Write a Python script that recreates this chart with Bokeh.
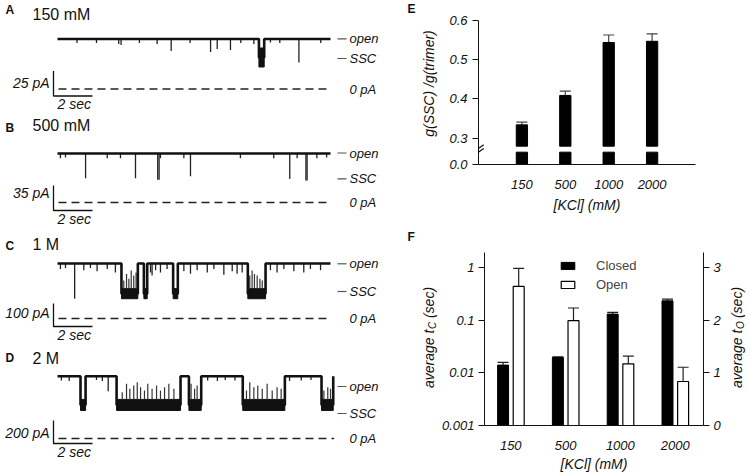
import math
from bokeh.plotting import figure
from bokeh.layouts import row, column
from bokeh.models import (Range1d, LinearAxis, LinearScale, FixedTicker, Label, Whisker, TeeHead,
                          ColumnDataSource, Legend, LegendItem)
from bokeh.embed import file_html
from bokeh.resources import INLINE

FONT = "Liberation Sans"
INK = "#111111"

# ---------------- Data: panels A-D (time in s, current in pA) ----------------
panel_letters = ["A", "B", "C", "D"]
panel_titles = ["150 mM", "500 mM", "1 M", "2 M"]
scale_bar_pA = [25, 35, 100, 200]
scale_bar_s = 2
trace_end_s = [14.0, 14.0, 14.0, 14.14]
open_level_pA = [50, 68.6, 239, 542]
ssc_band_lo_pA = [22, 31, 86, 244]
ssc_band_hi_pA = [41, 36, 130, 340]

A_dwell_start = [10.33]
A_dwell_end = [10.60]
A_spike_t = [1.0, 2.0, 3.14, 3.26, 4.2, 5.11, 5.83, 6.8, 7.85, 8.19, 8.87, 9.4, 10.07, 10.92, 11.4, 12.38, 13.5]
A_spike_pA = [46, 46, 45, 44, 46, 45, 38, 46, 37, 40, 39, 46, 45, 46.6, 46, 26.6, 46]
A_up_t = []
A_up_pA = []

B_dwell_start = []
B_dwell_end = []
B_spike_t = [0.15, 0.41, 1.44, 2.55, 3.23, 4.00, 5.14, 5.21, 5.28, 6.48, 6.82, 9.38, 11.09, 11.91, 12.29, 12.74, 12.80, 13.3, 13.8]
B_spike_pA = [62, 63, 34, 62, 62, 34, 31.7, 31.7, 62, 62, 36.8, 62, 62, 33, 62, 30.8, 30.8, 62, 63]
B_up_t = []
B_up_pA = []

C_dwell_start = [3.28, 4.43, 5.93, 9.76]
C_dwell_end = [4.12, 4.60, 6.17, 10.67]
C_spike_t = [0.15, 0.41, 0.88, 1.35, 1.69, 2.03, 2.55, 2.97, 4.77, 4.85, 5.03, 5.28, 5.62, 6.48, 6.82,
             7.16, 7.68, 8.02, 8.53, 8.96, 9.21, 9.47, 10.92, 11.26, 11.61, 12.12, 12.63, 12.97, 13.49]
C_spike_pA = [215, 220, 86, 210, 220, 205, 215, 200, 200, 187, 210, 200, 215, 205, 195,
              210, 200, 215, 190, 205, 195, 200, 210, 200, 215, 205, 200, 215, 210]
C_up_t = [3.40, 3.54, 3.66, 3.78, 3.91, 4.03, 9.86, 9.98, 10.10, 10.24, 10.38, 10.50]
C_up_pA = [165, 194, 173, 209, 187, 200, 187, 209, 194, 187, 173, 165]

D_dwell_start = [1.18, 3.03, 6.74, 9.50, 13.54]
D_dwell_end = [1.44, 6.31, 7.37, 11.66, 14.14]
D_spike_t = [0.2, 0.6, 2.0, 2.3, 2.6, 7.7, 8.2, 8.6, 9.1, 11.9, 12.5, 13.0]
D_spike_pA = [505, 500, 510, 500, 412, 505, 500, 510, 505, 500, 505, 510]
D_up_t = [3.32, 3.54, 3.71, 3.91, 4.09, 4.26, 4.46, 4.63, 4.85, 5.08, 5.28, 5.49, 5.71, 5.97,
          6.85, 7.03, 7.16, 9.69, 9.86, 10.07, 10.27, 10.50, 10.75, 11.01, 11.26, 11.47,
          13.66, 13.86, 14.00]
D_up_pA = [403, 476, 432, 461, 490, 446, 418, 476, 432, 461, 418, 446, 476, 432,
           476, 432, 461, 418, 490, 446, 461, 432, 476, 418, 446, 432,
           418, 446, 432]

# ---------------- Data: panel E ----------------
kcl_labels = ["150", "500", "1000", "2000"]
g_ratio = [0.334, 0.409, 0.544, 0.547]
g_ratio_sem = [0.007, 0.011, 0.019, 0.019]

# ---------------- Data: panel F ----------------
closed_tc = [0.0140, 0.0196, 0.130, 0.232]
closed_tc_sem = [0.0018, 0.0005, 0.010, 0.018]
open_to = [2.64, 1.99, 1.17, 0.835]
open_to_sem = [0.34, 0.24, 0.145, 0.27]

# ---------------- Layout geometry (page pixels) ----------------
LEFT_W = 388
PX_PER_S = 19.5
T0_PX = 57          # page x of t = 0
panel_top = [0, 115, 230, 345]
panel_h = [115, 115, 115, 129]
zero_y = [88.5, 202, 318, 438]
pA_per_px = [1.0, 1.4, 4.35, 8.7]
bar_below = [7, 8, 8, 5]
lab_open_y = [38.3, 152.5, 263.3, 386]
lab_ssc_y = [58, 178.3, 291, 413]
scale_lab_y = [82, 192, 312, 432]
letter_y = [9, 127, 245, 357]
title_y = [14, 125, 244, 358]

traces = [
    (A_dwell_start, A_dwell_end, A_spike_t, A_spike_pA, A_up_t, A_up_pA),
    (B_dwell_start, B_dwell_end, B_spike_t, B_spike_pA, B_up_t, B_up_pA),
    (C_dwell_start, C_dwell_end, C_spike_t, C_spike_pA, C_up_t, C_up_pA),
    (D_dwell_start, D_dwell_end, D_spike_t, D_spike_pA, D_up_t, D_up_pA),
]


def tx(px):
    return (px - T0_PX) / PX_PER_S


def bare(p):
    p.outline_line_color = None
    p.xgrid.visible = False
    p.ygrid.visible = False
    p.frame_align = False
    return p


def lab(p, x, y, txt, size="14px", style="italic", angle=0.0, align="left"):
    p.add_layout(Label(x=x, y=y, text=txt, angle=angle, text_font=FONT,
                       text_font_style=style, text_font_size=size, text_align=align,
                       text_baseline="middle", text_color=INK))


def trace_panel(i):
    top, h, z, k = panel_top[i], panel_h[i], zero_y[i], pA_per_px[i]
    yv = lambda py: (z - py) * k
    p = bare(figure(width=LEFT_W, height=h, x_range=Range1d(tx(0), tx(LEFT_W)),
                    y_range=Range1d(yv(top + h), yv(top)), output_backend="svg",
                    toolbar_location=None, x_axis_location=None, y_axis_location=None,
                    min_border=0))

    ds, de, st, sp, ut, up = traces[i]
    op = open_level_pA[i]
    lo, hi = ssc_band_lo_pA[i], ssc_band_hi_pA[i]
    mid = (lo + hi) / 2
    xs, ys = [0.0], [op]
    for a, b in zip(ds, de):
        xs += [a, a, b, b]
        ys += [op, mid, mid, op]
    xs.append(trace_end_s[i])
    ys.append(op)
    p.segment(x0=st, y0=[op] * len(st), x1=st, y1=sp, line_color="#222222", line_width=1.3)
    if ds:
        p.quad(left=ds, right=de, bottom=[lo] * len(ds), top=[hi] * len(ds),
               fill_color=INK, line_color=INK, line_width=1)
    if ut:
        p.segment(x0=ut, y0=[hi] * len(ut), x1=ut, y1=up, line_color="#333333", line_width=1.2)
    p.line(xs, ys, line_color=INK, line_width=2.6)

    p.line([0.05, trace_end_s[i] + 0.05], [0, 0], line_color="#222222", line_width=1.5,
           line_dash="8 5")
    yb = yv(z + bar_below[i])
    xb = tx(53)
    p.line([xb, xb, xb + scale_bar_s], [yb + scale_bar_pA[i], yb, yb],
           line_color=INK, line_width=1.3)
    for py, txt in ((lab_open_y[i], "open"), (lab_ssc_y[i], "SSC"), (z, "0 pA")):
        if txt != "0 pA":
            p.line([tx(337), tx(346)], [yv(py), yv(py)], line_color="#555555", line_width=1.2)
        lab(p, tx(349), yv(py), txt, size="13px")
    lab(p, tx(49), yv(scale_lab_y[i]), f"{scale_bar_pA[i]} pA", align="right")
    lab(p, tx(57), yv(z + bar_below[i] + 8), f"{scale_bar_s} sec")
    lab(p, tx(5), yv(letter_y[i]), panel_letters[i], size="12px", style="bold")
    lab(p, tx(32), yv(title_y[i]), panel_titles[i], size="16px", style="normal")
    return p


left = column(*[trace_panel(i) for i in range(4)], spacing=0)


def gutter(w, h):
    return bare(figure(width=w, height=h, x_range=Range1d(0, w), y_range=Range1d(0, h),
                       output_backend="svg", toolbar_location=None, x_axis_location=None,
                       y_axis_location=None, min_border=0))


def style_axis(ax):
    ax.major_label_text_font = FONT
    ax.major_label_text_font_style = "italic"
    ax.major_label_text_font_size = "13px"
    ax.major_label_text_color = INK
    ax.axis_label_text_font = FONT
    ax.axis_label_text_font_style = "italic"
    ax.axis_label_text_font_size = "14px"
    ax.axis_label_text_color = INK
    ax.minor_tick_line_color = None
    ax.axis_line_color = INK
    ax.major_tick_line_color = INK
    ax.major_tick_in = 0


# ---------------- Panel E ----------------
E_H = 230
gE = gutter(50, E_H)
lab(gE, 19, E_H - 8, "E", size="12px", style="bold")
lab(gE, 40, E_H - 83, "g(SSC) /g(trimer)", angle=math.pi / 2, align="center")

E_BOT = 0.233            # display value of the broken axis' "0.0"
GAP_LO, GAP_HI = 0.2644, 0.2797
xpos = [1, 2, 3, 4]
pe = bare(figure(width=311, height=E_H, x_range=Range1d(0, 5), y_range=Range1d(E_BOT, 0.6),
                 output_backend="svg", toolbar_location=None,
                 min_border_left=40, min_border_right=54, min_border_top=20,
                 min_border_bottom=66))
src_e = ColumnDataSource(dict(x=xpos, top=g_ratio,
                              upper=[v + s for v, s in zip(g_ratio, g_ratio_sem)]))
pe.vbar(x="x", width=0.26, bottom=GAP_HI, top="top", source=src_e,
        fill_color="black", line_color="black")
pe.vbar(x=xpos, width=0.26, bottom=E_BOT, top=GAP_LO, fill_color="black", line_color="black")
pe.add_layout(Whisker(source=src_e, base="x", lower="top", upper="upper", dimension="height",
                      line_color="#444444", line_width=1.2, lower_head=None,
                      upper_head=TeeHead(size=11, line_color="#444444", line_width=1.2)))
pe.segment(x0=[-0.15, -0.15], y0=[0.262, 0.2525], x1=[0.12, 0.12], y1=[0.2835, 0.274],
           line_color=INK, line_width=1.2)
style_axis(pe.xaxis[0])
style_axis(pe.yaxis[0])
pe.yaxis.ticker = FixedTicker(ticks=[E_BOT, 0.3, 0.4, 0.5, 0.6])
pe.yaxis.major_label_overrides = {E_BOT: "0.0"}
pe.yaxis.major_tick_out = 6
pe.yaxis.major_label_standoff = 5
pe.xaxis.ticker = FixedTicker(ticks=xpos)
pe.xaxis.major_label_overrides = {x: l for x, l in zip(xpos, kcl_labels)}
pe.xaxis.major_tick_line_color = None
pe.xaxis.major_tick_out = 0
pe.xaxis.major_label_standoff = 15
pe.xaxis.axis_label = "[KCl] (mM)"
pe.xaxis.axis_label_standoff = 5

# ---------------- Panel F ----------------
F_H = 244
gF = gutter(50, F_H)
lab(gF, 19, F_H - 6, "F", size="12px", style="bold")
gR = gutter(26, F_H)


def rotated_label(g, x, yc, sub):
    w1, w2, w3 = 58.4, 7.5, 35.0
    y0 = yc - (w1 + w2 + w3) / 2
    lab(g, x, y0, "average t", angle=math.pi / 2)
    lab(g, x + 4, y0 + w1 + 0.5, sub, size="10px", angle=math.pi / 2)
    lab(g, x, y0 + w1 + w2 + 4, "(sec)", angle=math.pi / 2)


rotated_label(gF, 40, F_H - 107, "C")
rotated_label(gR, 13, F_H - 107, "O")

F_LOG_TOP = 1.919
F_LIN_TOP = 3.283
pf = bare(figure(width=285, height=F_H, x_range=Range1d(0.521, 4.517), y_axis_type="log",
                 y_range=Range1d(0.001, F_LOG_TOP), output_backend="svg", toolbar_location=None,
                 min_border_left=44, min_border_right=20, min_border_top=22,
                 min_border_bottom=49))
pf.extra_y_ranges = {"open": Range1d(0, F_LIN_TOP)}
pf.extra_y_scales = {"open": LinearScale()}
cx = [x - 0.14 for x in xpos]
ox = [x + 0.145 for x in xpos]
src_c = ColumnDataSource(dict(x=cx, top=closed_tc,
                              upper=[v + s for v, s in zip(closed_tc, closed_tc_sem)]))
src_o = ColumnDataSource(dict(x=ox, top=open_to,
                              upper=[v + s for v, s in zip(open_to, open_to_sem)]))
rc = pf.vbar(x="x", width=0.2, bottom=0.001, top="top", source=src_c,
             fill_color="black", line_color="black")
ro = pf.vbar(x="x", width=0.2, bottom=0, top="top", source=src_o, y_range_name="open",
             fill_color="white", line_color="black", line_width=1.2)
pf.add_layout(Whisker(source=src_c, base="x", lower="top", upper="upper", dimension="height",
                      line_color="#222222", line_width=1.2, lower_head=None,
                      upper_head=TeeHead(size=11, line_color="#222222", line_width=1.2)))
pf.add_layout(Whisker(source=src_o, base="x", lower="top", upper="upper", dimension="height",
                      y_range_name="open", line_color="#222222", line_width=1.2, lower_head=None,
                      upper_head=TeeHead(size=11, line_color="#222222", line_width=1.2)))
right_ax = LinearAxis(y_range_name="open", ticker=FixedTicker(ticks=[0, 1, 2, 3]))
pf.add_layout(right_ax, "right")
for ax in (pf.xaxis[0], pf.yaxis[0], right_ax):
    style_axis(ax)
    ax.major_tick_out = 6
    ax.major_label_standoff = 4
pf.yaxis[0].ticker = FixedTicker(ticks=[0.001, 0.01, 0.1, 1])
pf.yaxis[0].major_label_overrides = {0.001: "0.001", 0.01: "0.01", 0.1: "0.1", 1: "1"}
pf.xaxis.ticker = FixedTicker(ticks=xpos)
pf.xaxis.major_label_overrides = {x: l for x, l in zip(xpos, kcl_labels)}
pf.xaxis.major_tick_line_color = None
pf.xaxis.major_tick_out = 0
pf.xaxis.major_label_standoff = 15
pf.xaxis.axis_label = "[KCl] (mM)"
pf.xaxis.axis_label_standoff = 3
legend = Legend(items=[LegendItem(label="Closed", renderers=[rc]),
                       LegendItem(label="Open", renderers=[ro])],
                location=(75, 133), glyph_width=17, glyph_height=9, label_standoff=20,
                spacing=4, padding=0, margin=0, border_line_color=None,
                background_fill_alpha=0, label_text_font=FONT, label_text_font_size="13px",
                label_height=14)
pf.add_layout(legend)

right = column(row(gE, pe, spacing=0), row(gF, pf, gR, spacing=0), spacing=0)
layout = row(left, right, spacing=0)

open("out.html", "w").write(file_html(layout, INLINE))
